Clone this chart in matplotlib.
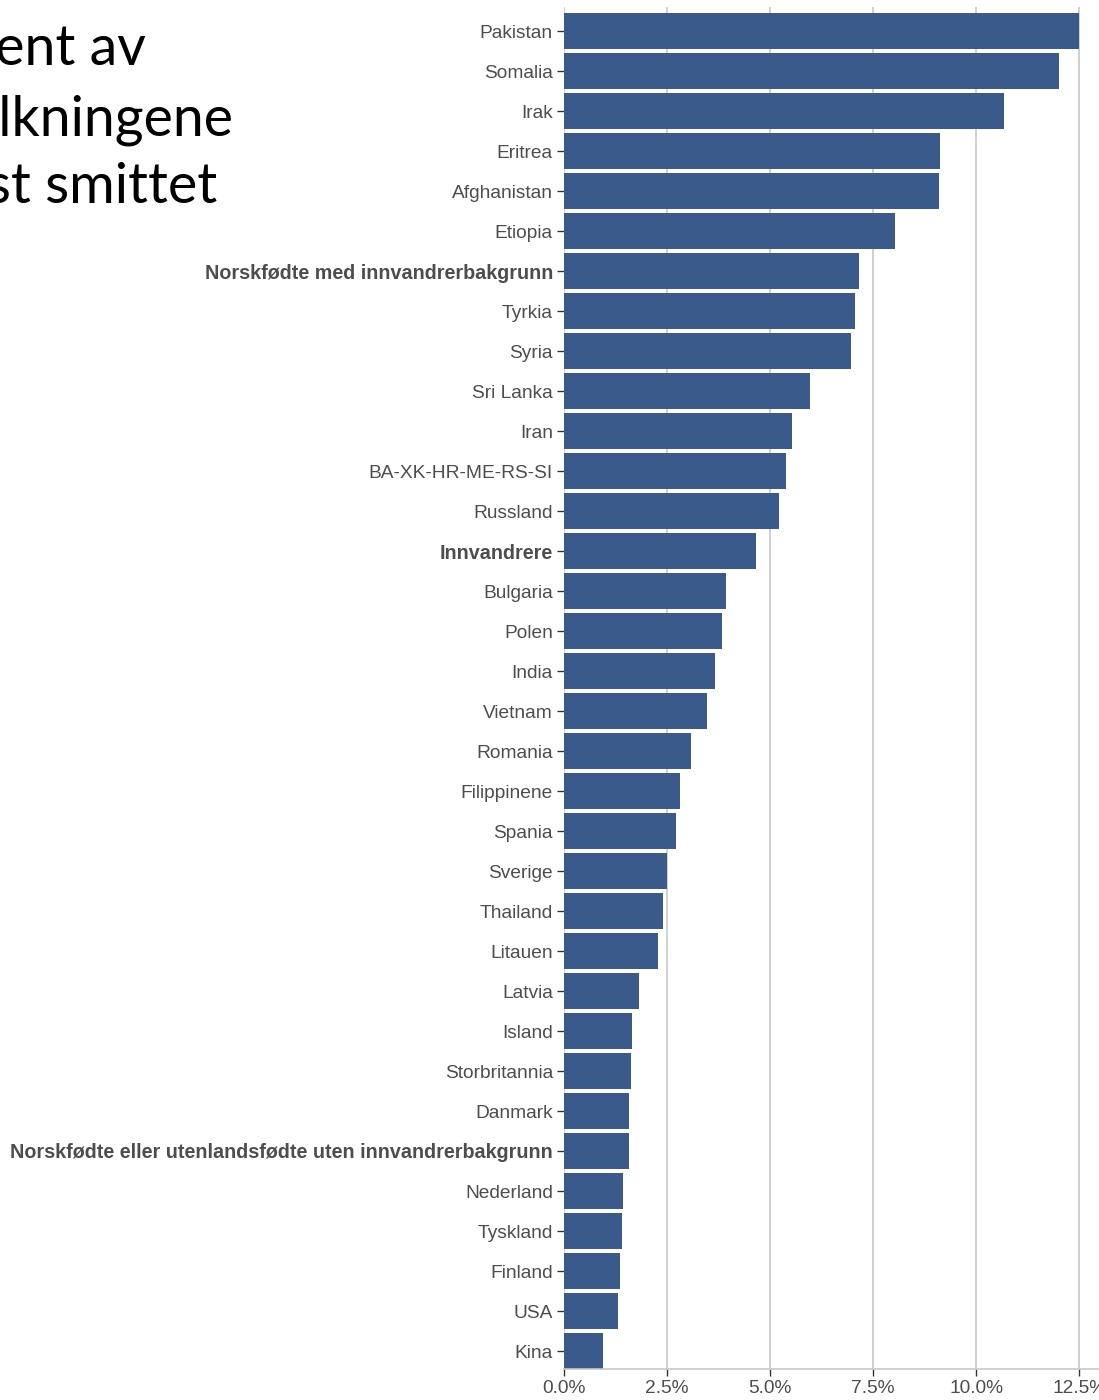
import matplotlib.pyplot as plt

# andel smittet per landbakgrunn (prosent), lest av figuren
land = ["Pakistan", "Somalia", "Irak", "Eritrea", "Afghanistan", "Etiopia",
        "Norskfødte med innvandrerbakgrunn", "Tyrkia", "Syria", "Sri Lanka",
        "Iran", "BA-XK-HR-ME-RS-SI", "Russland", "Innvandrere", "Bulgaria",
        "Polen", "India", "Vietnam", "Romania", "Filippinene", "Spania",
        "Sverige", "Thailand", "Litauen", "Latvia", "Island", "Storbritannia",
        "Danmark", "Norskfødte eller utenlandsfødte uten innvandrerbakgrunn",
        "Nederland", "Tyskland", "Finland", "USA", "Kina"]
prosent = [12.50, 12.01, 10.68, 9.13, 9.10, 8.03, 7.16, 7.06, 6.97, 5.97,
           5.53, 5.39, 5.22, 4.66, 3.93, 3.83, 3.67, 3.47, 3.08, 2.82, 2.72,
           2.50, 2.40, 2.28, 1.82, 1.65, 1.63, 1.58, 1.58, 1.43, 1.41, 1.36,
           1.31, 0.95]
uthevet = ["Norskfødte med innvandrerbakgrunn", "Innvandrere",
           "Norskfødte eller utenlandsfødte uten innvandrerbakgrunn"]
x_ticks = [0, 2.5, 5.0, 7.5, 10.0, 12.5]

W, H = 1099, 1400
fig = plt.figure(figsize=(W / 100, H / 100), dpi=100)

# akse fra x=564 px til 1104 px, y fra 7 til 1369 px
ax = fig.add_axes([564 / W, (H - 1369) / H, (1104 - 564) / W, (1369 - 7) / H])

n = len(land)
ypos = [n - 1 - i for i in range(n)]
ax.barh(ypos, prosent, height=0.9, color="#3A5A8C", zorder=2)

ax.set_xlim(0, 13.1)
ax.set_ylim(-0.45, n - 1 + 0.6)
ax.set_xticks(x_ticks)
ax.set_xticklabels([f"{v:.1f}%" for v in x_ticks])
ax.set_yticks(ypos)
ax.set_yticklabels(land)

ax.tick_params(axis="both", colors="#333333", labelcolor="#4D4D4D",
               labelsize=13.8, length=5, width=1)
ax.tick_params(axis="y", pad=3)
ax.tick_params(axis="x", pad=3)
for lab in ax.get_xticklabels() + ax.get_yticklabels():
    lab.set_fontfamily("Liberation Sans")

for lab in ax.get_yticklabels():
    if lab.get_text() in uthevet:
        lab.set_fontweight("bold")
        lab.set_fontsize(14.2)

ax.grid(axis="x", color="#C8C8C8", linewidth=1.2, zorder=0)
ax.set_axisbelow(True)
for side in ["top", "right", "left"]:
    ax.spines[side].set_visible(False)
ax.spines["bottom"].set_color("#C8C8C8")
ax.spines["bottom"].set_linewidth(1.2)

# tittel, kuttet i venstre kant som i originalen
tittel = [("Prosent av", 146, 65), ("befolkningene", 233, 135),
          ("mest smittet", 217, 203)]
for tekst, xr, yb in tittel:
    fig.text(xr / W, 1 - yb / H, tekst, ha="right", va="baseline",
             fontsize=40, family="Lato", color="black")

fig.savefig("out.png", dpi=100)
